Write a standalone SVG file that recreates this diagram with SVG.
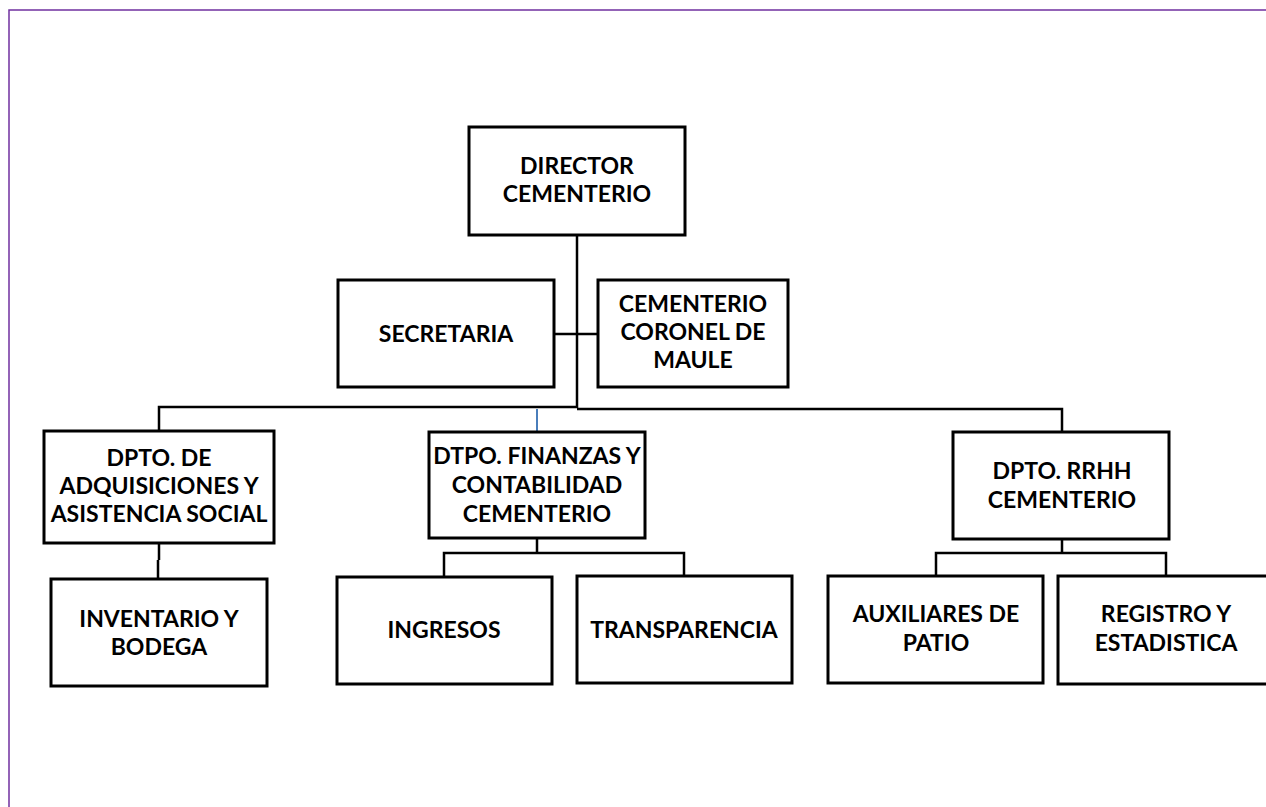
<svg xmlns="http://www.w3.org/2000/svg" width="1266" height="807" viewBox="0 0 1266 807">
<style>
.box{fill:#fff;stroke:#000;stroke-width:3}
.t{font-family:Lato,"Open Sans","Liberation Sans",sans-serif;font-weight:bold;font-size:23px;fill:#000;text-anchor:middle}
.c{fill:none;stroke:#000;stroke-width:2.5}
</style>
<rect width="1266" height="807" fill="#fff"/>
<path d="M9 807 V10 H1266" fill="none" stroke="#7030A0" stroke-width="1.5"/>
<g id="connectors">
<path class="c" d="M577 235 V408"/>
<path class="c" d="M554 334 H598"/>
<path class="c" d="M159 431 V407 H577"/>
<path class="c" d="M577 409 H1062 V432"/>
<path d="M537 409 V432" fill="none" stroke="#4A7EBB" stroke-width="2"/>
<path class="c" d="M159 543 V560 M158 560 V579"/>
<path class="c" d="M537 538 V553 M444 577 V553 H684 V576"/>
<path class="c" d="M1062 539 V553 M936 576 V553 H1166 V576"/>
</g>
<g id="director"><rect class="box" x="469" y="127" width="216" height="108"/><text class="t" x="577" y="174">DIRECTOR</text><text class="t" x="577" y="202">CEMENTERIO</text></g>
<g id="secretaria"><rect class="box" x="338" y="280" width="216" height="107"/><text class="t" x="446" y="342">SECRETARIA</text></g>
<g id="coronel"><rect class="box" x="598" y="280" width="190" height="107"/><text class="t" x="693" y="312">CEMENTERIO</text><text class="t" x="693" y="340">CORONEL DE</text><text class="t" x="693" y="368">MAULE</text></g>
<g id="adquisiciones"><rect class="box" x="44" y="431" width="230" height="112"/><text class="t" x="159" y="466">DPTO. DE</text><text class="t" x="159" y="494">ADQUISICIONES Y</text><text class="t" x="159" y="522">ASISTENCIA SOCIAL</text></g>
<g id="inventario"><rect class="box" x="51" y="579" width="216" height="107"/><text class="t" x="159" y="627">INVENTARIO Y</text><text class="t" x="159" y="655">BODEGA</text></g>
<g id="finanzas"><rect class="box" x="429" y="432" width="216" height="106"/><text class="t" x="537" y="464">DTPO. FINANZAS Y</text><text class="t" x="537" y="493">CONTABILIDAD</text><text class="t" x="537" y="522">CEMENTERIO</text></g>
<g id="ingresos"><rect class="box" x="337" y="577" width="215" height="107"/><text class="t" x="444" y="638">INGRESOS</text></g>
<g id="transparencia"><rect class="box" x="577" y="576" width="215" height="107"/><text class="t" x="684" y="638">TRANSPARENCIA</text></g>
<g id="rrhh"><rect class="box" x="953" y="432" width="216" height="107"/><text class="t" x="1062" y="479">DPTO. RRHH</text><text class="t" x="1062" y="508">CEMENTERIO</text></g>
<g id="auxiliares"><rect class="box" x="828" y="576" width="215" height="107"/><text class="t" x="936" y="622">AUXILIARES DE</text><text class="t" x="936" y="651">PATIO</text></g>
<g id="registro"><rect class="box" x="1058" y="576" width="212" height="108"/><text class="t" x="1166" y="622">REGISTRO Y</text><text class="t" x="1166" y="651">ESTADISTICA</text></g>
</svg>
